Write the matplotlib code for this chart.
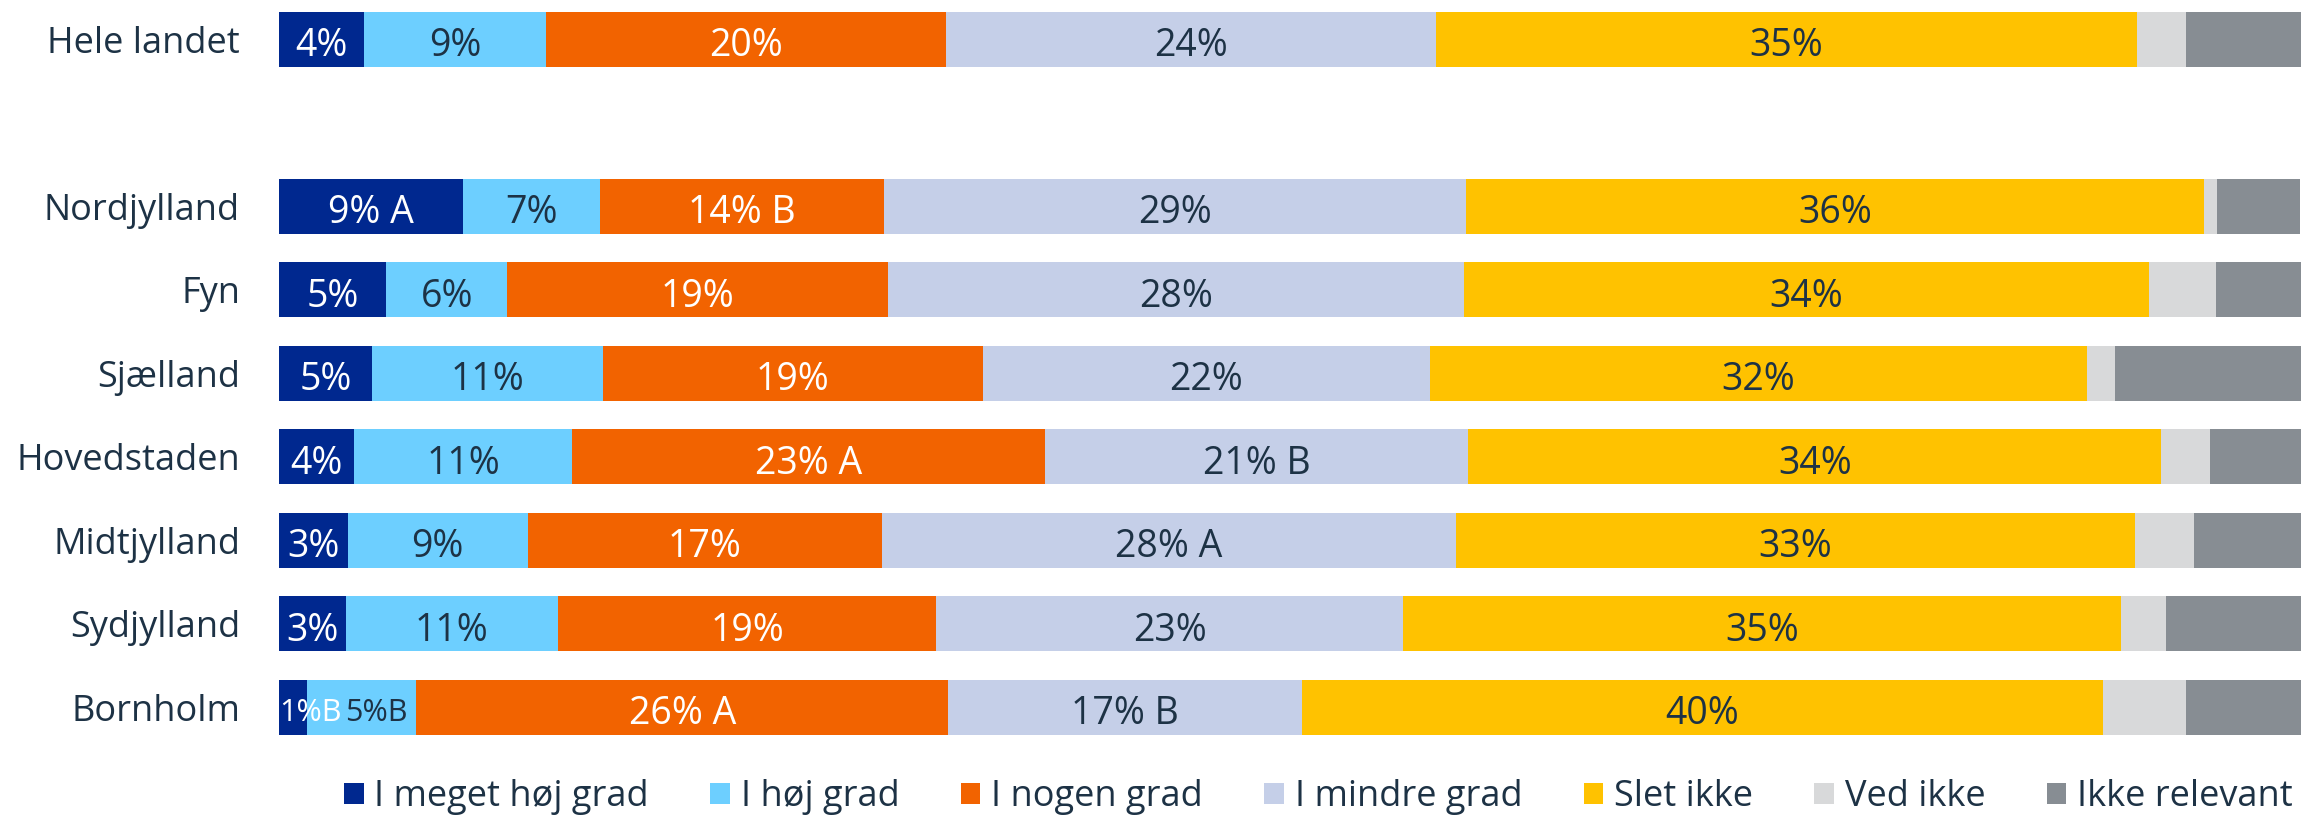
import matplotlib
matplotlib.use("Agg")
import matplotlib.pyplot as plt
import numpy as np

categories = ["Hele landet", "", "Nordjylland", "Fyn", "Sjælland", "Hovedstaden",
              "Midtjylland", "Sydjylland", "Bornholm"]
series = ["I meget høj grad", "I høj grad", "I nogen grad", "I mindre grad",
          "Slet ikke", "Ved ikke", "Ikke relevant"]
colors = ["#00288f", "#6dcfff", "#f26300", "#c5cfe8", "#ffc200", "#d8d9da", "#878d93"]
text_colors = ["white", "#1d3245", "white", "#1d3245", "#1d3245", "#1d3245", "#1d3245"]

meget_hoej = [4.2, 0, 9.1, 5.3, 4.6, 3.7, 3.4, 3.3, 1.4]
hoej = [9.0, 0, 6.8, 6.0, 11.4, 10.8, 8.9, 10.5, 5.4]
nogen = [19.8, 0, 14.0, 18.8, 18.8, 23.4, 17.5, 18.7, 26.3]
mindre = [24.2, 0, 28.8, 28.5, 22.1, 20.9, 28.4, 23.1, 17.5]
slet_ikke = [34.7, 0, 36.5, 33.9, 32.5, 34.3, 33.6, 35.5, 39.6]
ved_ikke = [2.4, 0, 0.65, 3.3, 1.4, 2.4, 2.9, 2.2, 4.1]
ikke_relevant = [5.7, 0, 4.1, 4.2, 9.3, 4.6, 5.4, 6.7, 5.7]

lbl_meget_hoej = ["4%", "", "9% A", "5%", "5%", "4%", "3%", "3%", "1%B"]
lbl_hoej = ["9%", "", "7%", "6%", "11%", "11%", "9%", "11%", "5%B"]
lbl_nogen = ["20%", "", "14% B", "19%", "19%", "23% A", "17%", "19%", "26% A"]
lbl_mindre = ["24%", "", "29%", "28%", "22%", "21% B", "28% A", "23%", "17% B"]
lbl_slet = ["35%", "", "36%", "34%", "32%", "34%", "33%", "35%", "40%"]
lbl_none = [""] * 9

values = [meget_hoej, hoej, nogen, mindre, slet_ikke, ved_ikke, ikke_relevant]
labels = [lbl_meget_hoej, lbl_hoej, lbl_nogen, lbl_mindre, lbl_slet, lbl_none, lbl_none]

plt.rcParams['font.family'] = ['Open Sans', 'DejaVu Sans']

fig = plt.figure(figsize=(23.01, 8.16), dpi=100)
ax = fig.add_axes([279 / 2301, 0.082, 1 - 279 / 2301, 0.921])

y = np.arange(len(categories))
left = np.zeros(len(categories))
for si, (vals, lbls, col, tcol, name) in enumerate(zip(values, labels, colors, text_colors, series)):
    vals = np.array(vals)
    ax.barh(y, vals, left=left, height=0.66, color=col, label=name, edgecolor='none')
    for yi, (v, l, lab) in enumerate(zip(vals, left, lbls)):
        if not lab:
            continue
        if v < 2:
            # very small segment: label starts at the segment and overflows right
            ax.text(l + 0.02, yi + 0.03, lab, ha='left', va='center_baseline',
                    color=tcol, fontsize=22)
        elif v < 6 and 'B' in lab:
            ax.text(l + v - 0.45, yi + 0.03, lab, ha='right', va='center_baseline',
                    color=tcol, fontsize=22)
        else:
            ax.text(l + v / 2, yi + 0.03, lab, ha='center', va='center_baseline',
                    color=tcol, fontsize=27)
    left += vals

ax.set_xlim(0, 100)
ax.set_ylim(8.5, -0.5)
ax.set_yticks(y)
ax.set_yticklabels(categories, fontsize=26, color="#1d3245")
ax.tick_params(axis='y', length=0, pad=28)
ax.set_xticks([])
for s in ax.spines.values():
    s.set_visible(False)

fig.legend(loc='center', bbox_to_anchor=(0.573, 0.023), ncol=7, frameon=False,
           fontsize=26, handlelength=0.54, handleheight=0.54, handletextpad=0.3,
           columnspacing=1.7, labelcolor="#1d3245")

fig.savefig("out.png", dpi=100)
